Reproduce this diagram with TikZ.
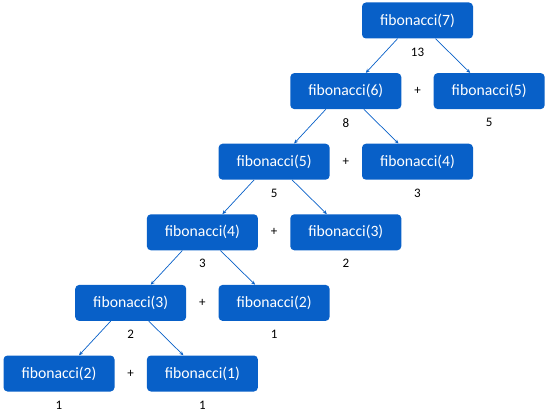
\documentclass[tikz,border=0pt]{standalone}
\usepackage{fontspec}
\setmainfont{Carlito}
\usetikzlibrary{arrows.meta}
\definecolor{fibblue}{RGB}{8,96,200}
\begin{document}
\begin{tikzpicture}[x=1pt,y=-1pt,
  call/.style={fill=fibblue, rounded corners=4pt, minimum width=111pt, minimum height=36pt,
    text=white, font=\fontsize{15.7}{18}\selectfont},
  num/.style={font=\fontsize{13}{15}\selectfont, yshift=-5.5pt},
  plus/.style={font=\fontsize{13}{15}\selectfont},
  arr/.style={draw=fibblue, line width=0.7pt, -{Stealth[length=4pt,width=3.5pt]}}]
\useasboundingbox (0,0) rectangle (550,412);

\node[call, label={[num]below:13}] (a7) at (417.5,20.5) {fibonacci(7)};
\node[call, label={[num]below:8}] (a6) at (345.8,91.1) {fibonacci(6)};
\node[call, label={[num]below:5}] (b5) at (489.2,91.1) {fibonacci(5)};
\node[call, label={[num]below:5}] (a5) at (274.1,161.7) {fibonacci(5)};
\node[call, label={[num]below:3}] (b4) at (417.5,161.7) {fibonacci(4)};
\node[call, label={[num]below:3}] (a4) at (202.4,232.3) {fibonacci(4)};
\node[call, label={[num]below:2}] (b3) at (345.8,232.3) {fibonacci(3)};
\node[call, label={[num]below:2}] (a3) at (130.7,302.9) {fibonacci(3)};
\node[call, label={[num]below:1}] (b2) at (274.1,302.9) {fibonacci(2)};
\node[call, label={[num]below:1}] (a2) at (59,373.5) {fibonacci(2)};
\node[call, label={[num]below:1}] (a1) at (202.4,373.5) {fibonacci(1)};

\path (a6) -- node[plus] {+} (b5);
\path (a5) -- node[plus] {+} (b4);
\path (a4) -- node[plus] {+} (b3);
\path (a3) -- node[plus] {+} (b2);
\path (a2) -- node[plus] {+} (a1);

\path[arr] ([xshift=-20pt]a7.south) -- ([xshift=20pt]a6.north);
\path[arr] ([xshift=18pt]a7.south) -- ([xshift=-19pt]b5.north);
\path[arr] ([xshift=-20pt]a6.south) -- ([xshift=20pt]a5.north);
\path[arr] ([xshift=18pt]a6.south) -- ([xshift=-19pt]b4.north);
\path[arr] ([xshift=-20pt]a5.south) -- ([xshift=20pt]a4.north);
\path[arr] ([xshift=18pt]a5.south) -- ([xshift=-19pt]b3.north);
\path[arr] ([xshift=-20pt]a4.south) -- ([xshift=20pt]a3.north);
\path[arr] ([xshift=18pt]a4.south) -- ([xshift=-19pt]b2.north);
\path[arr] ([xshift=-20pt]a3.south) -- ([xshift=20pt]a2.north);
\path[arr] ([xshift=18pt]a3.south) -- ([xshift=-19pt]a1.north);
\end{tikzpicture}
\end{document}
